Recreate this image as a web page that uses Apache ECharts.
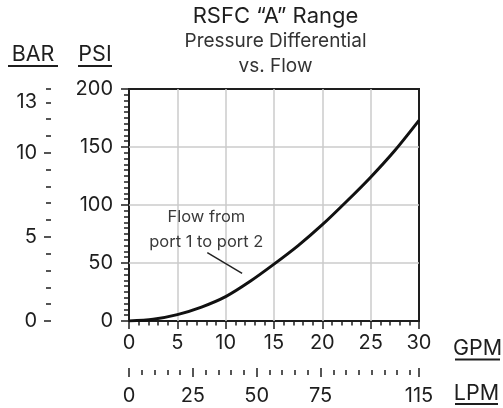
<!DOCTYPE html>
<html>
<head>
<meta charset="utf-8">
<script src="https://cdn.jsdelivr.net/npm/echarts@6/dist/echarts.min.js"></script>
<style>
  html, body { margin: 0; padding: 0; background: #fff; }
  #chart { width: 503px; height: 408px; }
</style>
</head>
<body>
<div id="chart"></div>
<script>
  // flow (GPM) vs pressure drop (PSI)
  const flowGpm = [0, 2.5, 5, 7.5, 10, 12.5, 15, 17.5, 20, 22.5, 25, 27.5, 30];
  const psiDrop = [0, 1.5, 5.5, 12, 21, 34, 49, 65, 83, 103, 124, 147, 173];

  // unit conversions for the side / bottom scales
  const PSI_PER_BAR = 14.5038;
  const LPM_PER_GPM = 3.7854;
  const barMajor = [0, 5, 10];
  const barLabels = [0, 5, 10, 13];
  const lpmMajor = [0, 25, 50, 75];
  const lpmLabels = ['0', '25', '50', '75', '115'];

  // callout "Flow from port 1 to port 2" (in GPM / PSI)
  const noteText = 'Flow from\nport 1 to port 2';
  const notePos = [8.0, 79];
  const leader = [[8.1, 59], [11.7, 41]];

  const FONT = 'Inter';
  const INK = '#1e1e1e';

  let chart = echarts.init(document.getElementById('chart'));

  let barMax = 200 / PSI_PER_BAR;
  let lpmMax = 30 * LPM_PER_GPM;
  let lpmEnds = lpmMajor.concat([lpmMax]);

  let tickStyle = { color: INK, width: 1.5 };
  let labelStyle = { color: INK, fontFamily: FONT, fontSize: 20 };
  let gridLine = { show: true, showMinLine: false, showMaxLine: false, lineStyle: { color: '#cbcbcb', width: 1.5 } };

  // a bare axis used only to draw tick marks
  // (labels kept on but transparent, v6 drops the ticks otherwise)
  function tickAxis(pos, max, offset, interval, len, values) {
    let tick = { show: true, length: len, lineStyle: tickStyle };
    if (values) tick.customValues = values;
    let label = { show: true, color: 'rgba(0,0,0,0)', fontSize: 1 };
    if (values) label.customValues = values;
    return {
      type: 'value', min: 0, max: max, interval: interval, position: pos, offset: offset,
      axisLine: { show: false, onZero: false },
      axisTick: tick,
      axisLabel: label,
      splitLine: { show: false }
    };
  }
  // invisible series so the tick-only axes get drawn
  function holder(xi, yi) {
    return {
      type: 'line', xAxisIndex: xi, yAxisIndex: yi, data: [[0, 0]], silent: true,
      showSymbol: false, lineStyle: { opacity: 0 }
    };
  }

  let option = {
    animation: false,
    grid: {
      left: 129, right: 84, top: 89, bottom: 87,
      show: true, borderColor: INK, borderWidth: 2
    },
    xAxis: [
      { // GPM
        type: 'value', min: 0, max: 30, interval: 5, position: 'bottom', offset: 4,
        axisLine: { show: false },
        axisTick: { show: true, length: 8, lineStyle: tickStyle },
        minorTick: { show: true, splitNumber: 5, length: 4.5, lineStyle: tickStyle },
        axisLabel: Object.assign({ margin: 8 }, labelStyle),
        splitLine: gridLine
      },
      { // LPM labels
        type: 'value', min: 0, max: lpmMax, position: 'bottom', offset: 47,
        axisLine: { show: false, onZero: false },
        axisTick: { show: false },
        axisLabel: Object.assign({
          margin: 18, customValues: lpmEnds,
          formatter: function (v) { return v > 100 ? lpmLabels[4] : String(Math.round(v)); }
        }, labelStyle),
        splitLine: { show: false }
      },
      tickAxis('bottom', lpmMax, 49, 5, 5),
      tickAxis('bottom', lpmMax, 47, 25, 9, lpmEnds)
    ],
    yAxis: [
      { // PSI
        type: 'value', min: 0, max: 200, interval: 50, position: 'left', offset: 4,
        axisLine: { show: false },
        axisTick: { show: true, length: 8, lineStyle: tickStyle },
        minorTick: { show: true, splitNumber: 10, length: 5, lineStyle: tickStyle },
        axisLabel: Object.assign({ margin: 12 }, labelStyle),
        splitLine: gridLine
      },
      { // BAR labels
        type: 'value', min: 0, max: barMax, position: 'left', offset: 78,
        axisLine: { show: false, onZero: false },
        axisTick: { show: false },
        axisLabel: Object.assign({ margin: 14, customValues: barLabels }, labelStyle),
        splitLine: { show: false }
      },
      tickAxis('left', barMax, 78, 1, 5),
      tickAxis('left', barMax, 78, 5, 7, barMajor)
    ],
    series: [{
      name: 'pressure',
      type: 'line',
      xAxisIndex: 0,
      yAxisIndex: 0,
      data: flowGpm.map(function (g, i) { return [g, psiDrop[i]]; }),
      showSymbol: false,
      smooth: 0.3,
      lineStyle: { color: '#111', width: 3 },
      z: 5,
      markLine: {
        silent: true,
        symbol: 'none',
        label: { show: false },
        lineStyle: { color: '#222', width: 1.5, type: 'solid' },
        data: [[{ coord: leader[0] }, { coord: leader[1] }]]
      },
      markPoint: {
        silent: true,
        symbol: 'circle',
        symbolSize: 0,
        data: [{ coord: notePos }],
        label: {
          show: true,
          formatter: noteText,
          color: '#3a3a3a',
          fontFamily: FONT,
          fontSize: 16.5,
          lineHeight: 25,
          align: 'center',
          verticalAlign: 'middle'
        }
      }
    },
    holder(2, 0), holder(3, 0), holder(0, 2), holder(0, 3)],
    graphic: [
      { type: 'text', x: 275.5, y: 16, style: { text: 'RSFC “A” Range', fill: INK, font: '22px ' + FONT, textAlign: 'center', textVerticalAlign: 'middle' } },
      { type: 'text', x: 275.5, y: 41, style: { text: 'Pressure Differential', fill: '#333', font: '19px ' + FONT, textAlign: 'center', textVerticalAlign: 'middle' } },
      { type: 'text', x: 275.5, y: 66, style: { text: 'vs. Flow', fill: '#333', font: '19px ' + FONT, textAlign: 'center', textVerticalAlign: 'middle' } },

      { type: 'text', x: 33, y: 55, style: { text: 'BAR', fill: INK, font: '21.5px ' + FONT, textAlign: 'center', textVerticalAlign: 'middle' } },
      { type: 'line', shape: { x1: 8, y1: 66, x2: 58, y2: 66 }, style: { stroke: INK, lineWidth: 1.8 } },
      { type: 'text', x: 95, y: 55, style: { text: 'PSI', fill: INK, font: '21.5px ' + FONT, textAlign: 'center', textVerticalAlign: 'middle' } },
      { type: 'line', shape: { x1: 78, y1: 66, x2: 112, y2: 66 }, style: { stroke: INK, lineWidth: 1.8 } },

      { type: 'text', x: 477.5, y: 349, style: { text: 'GPM', fill: INK, font: '21.5px ' + FONT, textAlign: 'center', textVerticalAlign: 'middle' } },
      { type: 'line', shape: { x1: 455, y1: 359.5, x2: 500, y2: 359.5 }, style: { stroke: INK, lineWidth: 1.8 } },
      { type: 'text', x: 476.5, y: 394, style: { text: 'LPM', fill: INK, font: '21.5px ' + FONT, textAlign: 'center', textVerticalAlign: 'middle' } },
      { type: 'line', shape: { x1: 455, y1: 404, x2: 498, y2: 404 }, style: { stroke: INK, lineWidth: 1.8 } }
    ]
  };

  chart.setOption(option);
</script>
</body>
</html>
